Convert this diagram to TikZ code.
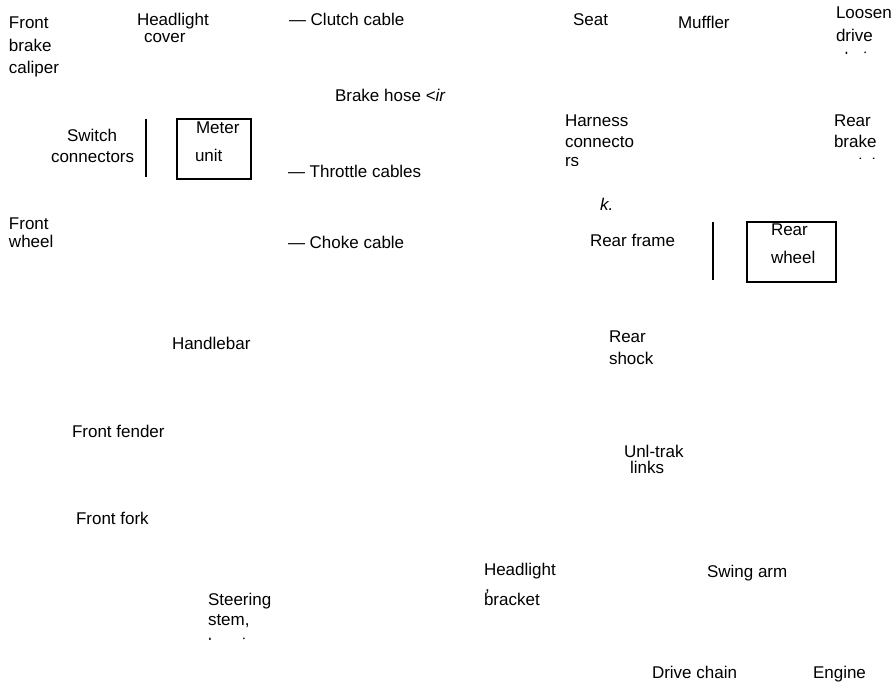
\documentclass[tikz,border=0pt]{standalone}
\usepackage{fontspec}
\setmainfont{Liberation Sans}
\begin{document}
\begin{tikzpicture}[x=1pt,y=-1pt,
  lbl/.style={anchor=base west,inner sep=0pt,outer sep=0pt,font=\fontsize{17}{20}\selectfont},
  boxline/.style={line width=2pt},
  bar/.style={line width=2pt}]
\useasboundingbox (0,0) rectangle (896,682);
% top row
\node[lbl] (fbc1) at (9,29) {Front};
\node[lbl] (fbc2) at (9,52) {brake};
\node[lbl] (fbc3) at (9,74) {caliper};
\node[lbl] (hc1) at (137,26) {Headlight};
\node[lbl] (hc2) at (144,43) {cover};
\node[lbl] (clutch) at (289,26) {— Clutch cable};
\node[lbl] (seat) at (573,26) {Seat};
\node[lbl] (muff) at (678,29) {Muffler};
\node[lbl] (ld1) at (836,19) {Loosen};
\node[lbl] (ld2) at (836,42) {drive};
\begin{scope}
\clip (820,48) rectangle (896,54);
\node[lbl] (ld3) at (836,65) {chain};
\end{scope}
\node[lbl] (bhose) at (335,102) {Brake hose \textit{<ir}};
% switch / meter
\node[lbl] (sw1) at (67,142) {Switch};
\node[lbl] (sw2) at (51,162) {connectors};
\coordinate (swt) at (146,119);
\coordinate (swb) at (146,177);
\draw[bar] (swt) -- (swb);
\node[draw,boxline,minimum width=74pt,minimum height=60pt,inner sep=0pt,anchor=north west] (meter) at (176,118) {};
\node[lbl] (m1) at (196,133) {Meter};
\node[lbl] (m2) at (195,161) {unit};
\node[lbl] (thr) at (288,177) {— Throttle cables};
\node[lbl] (hn1) at (565,127) {Harness};
\node[lbl] (hn2) at (565,147) {connecto};
\begin{scope}
\clip (550,150) rectangle (650,165);
\node[lbl] (hn3) at (565,166) {rs};
\end{scope}
\node[lbl] (rb1) at (834,127) {Rear};
\node[lbl] (rb2) at (834,147) {brake};
\begin{scope}
\clip (820,152) rectangle (896,158.5);
\node[lbl] (rb3) at (834,170) {pedal};
\end{scope}
% middle
\node[lbl] (fw1) at (9,229) {Front};
\node[lbl] (fw2) at (9,247) {wheel};
\node[lbl] (choke) at (288,248) {— Choke cable};
\node[lbl] (k) at (600,210) {\textit{k.}};
\node[lbl] (rf) at (590,246) {Rear frame};
\coordinate (rft) at (713,222);
\coordinate (rfb) at (713,280);
\draw[bar] (rft) -- (rfb);
\node[draw,boxline,minimum width=89pt,minimum height=60pt,inner sep=0pt,anchor=north west] (rw) at (746,221) {};
\node[lbl] (rw1) at (771,235) {Rear};
\node[lbl] (rw2) at (771,263) {wheel};
\node[lbl] (hb) at (172,349) {Handlebar};
\node[lbl] (rs1) at (609,342) {Rear};
\node[lbl] (rs2) at (609,364) {shock};
\node[lbl] (ff) at (72,437) {Front fender};
\node[lbl] (ut1) at (624,457) {Unl-trak};
\node[lbl] (ut2) at (630,473) {links};
\node[lbl] (fk) at (76,524) {Front fork};
% bottom
\node[lbl] (hl1) at (484,575) {Headlight};
\node[lbl] (hlc) at (485,591) {,};
\node[lbl] (hl2) at (484,605) {bracket};
\node[lbl] (sa) at (707,577) {Swing arm};
\node[lbl] (st1) at (208,605) {Steering};
\node[lbl] (st2) at (208,625) {stem,};
\begin{scope}
\clip (190,634) rectangle (300,639);
\node[lbl] (st3) at (208,650) {bearings};
\end{scope}
\node[lbl] (dc) at (652,678) {Drive chain};
\node[lbl] (eng) at (813,678) {Engine};
\end{tikzpicture}
\end{document}
